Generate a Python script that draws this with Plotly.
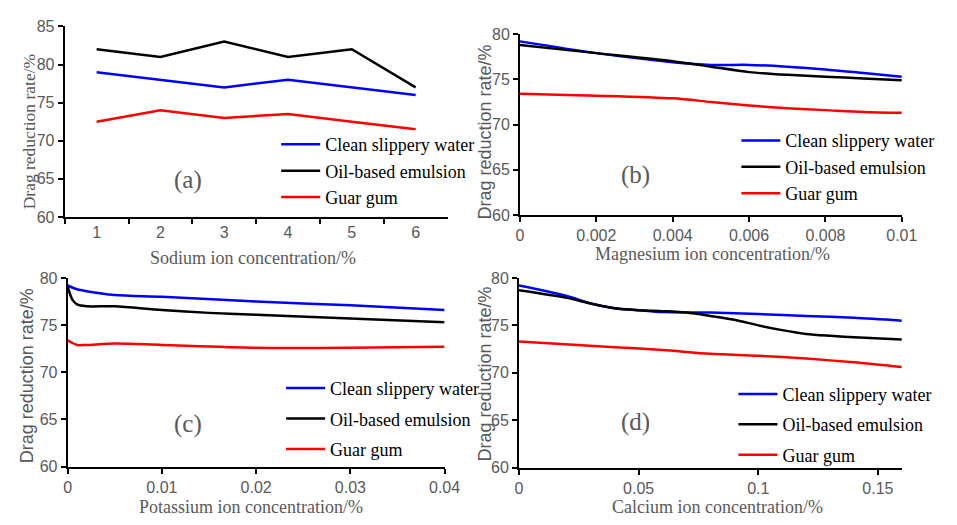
import plotly.graph_objects as go

W, H = 957, 525

# ---------------- data ----------------
series_names = ["Clean slippery water", "Oil-based emulsion", "Guar gum"]
series_colors = ["#0000FF", "#000000", "#FF0000"]

# (a) Sodium
na_x = ["1", "2", "3", "4", "5", "6"]
na_clean = [79, 78, 77, 78, 77, 76]
na_oil = [82, 81, 83, 81, 82, 77]
na_guar = [72.5, 74, 73, 73.5, 72.5, 71.5]

# (b) Magnesium
mg_x = [0, 0.002, 0.004, 0.005, 0.006, 0.007, 0.008, 0.009, 0.01]
mg_clean = [79.2, 77.9, 76.9, 76.6, 76.6, 76.4, 76.1, 75.7, 75.3]
mg_oil = [78.8, 77.9, 77.0, 76.4, 75.8, 75.5, 75.3, 75.1, 74.9]
mg_guar = [73.4, 73.2, 72.9, 72.5, 72.1, 71.8, 71.6, 71.4, 71.3]

# (c) Potassium
k_x_clean = [0, 0.001, 0.002, 0.005, 0.01, 0.02, 0.03, 0.04]
k_clean = [79.2, 78.8, 78.6, 78.2, 78.0, 77.5, 77.1, 76.6]
k_x_oil = [0, 0.0005, 0.001, 0.002, 0.005, 0.01, 0.015, 0.02, 0.03, 0.04]
k_oil = [79.1, 77.7, 77.2, 77.0, 77.0, 76.6, 76.3, 76.1, 75.7, 75.3]
k_x_guar = [0, 0.001, 0.002, 0.005, 0.01, 0.02, 0.03, 0.04]
k_guar = [73.4, 72.9, 72.9, 73.05, 72.9, 72.6, 72.6, 72.7]

# (d) Calcium
ca_x_clean = [0, 0.02, 0.03, 0.04, 0.05, 0.06, 0.08, 0.1, 0.12, 0.14, 0.16]
ca_clean = [79.2, 78.1, 77.3, 76.8, 76.6, 76.4, 76.35, 76.2, 76.0, 75.8, 75.5]
ca_x_oil = [0, 0.02, 0.03, 0.04, 0.05, 0.06, 0.07, 0.08, 0.09, 0.1, 0.11, 0.12, 0.13, 0.14, 0.16]
ca_oil = [78.7, 77.9, 77.3, 76.8, 76.6, 76.5, 76.35, 76.0, 75.6, 75.0, 74.5, 74.1, 73.9, 73.75, 73.5]
ca_x_guar = [0, 0.04, 0.06, 0.08, 0.1, 0.12, 0.14, 0.16]
ca_guar = [73.3, 72.7, 72.4, 72.0, 71.8, 71.5, 71.1, 70.6]

# tick labels
yticks_a = [60, 65, 70, 75, 80, 85]
yticks_bcd = [60, 65, 70, 75, 80]
mg_ticks = [0, 0.002, 0.004, 0.006, 0.008, 0.01]
mg_ticktext = ["0", "0.002", "0.004", "0.006", "0.008", "0.01"]
k_ticks = [0, 0.01, 0.02, 0.03, 0.04]
k_ticktext = ["0", "0.01", "0.02", "0.03", "0.04"]
ca_ticks = [0, 0.05, 0.1, 0.15]
ca_ticktext = ["0", "0.05", "0.1", "0.15"]

x_titles = ["Sodium ion concentration/%", "Magnesium ion concentration/%",
            "Potassium ion concentration/%", "Calcium ion concentration/%"]
y_title = "Drag reduction rate/%"
panel_labels = ["(a)", "(b)", "(c)", "(d)"]

SERIF = "Times New Roman, Liberation Serif, serif"
SANS = "Arial, Liberation Sans, sans-serif"
GRAY = "#595959"

fig = go.Figure()

panels = [
    ("x", "y", "legend", [(na_x, na_clean), (na_x, na_oil), (na_x, na_guar)], "linear"),
    ("x2", "y2", "legend2", [(mg_x, mg_clean), (mg_x, mg_oil), (mg_x, mg_guar)], "spline"),
    ("x3", "y3", "legend3", [(k_x_clean, k_clean), (k_x_oil, k_oil), (k_x_guar, k_guar)], "spline"),
    ("x4", "y4", "legend4", [(ca_x_clean, ca_clean), (ca_x_oil, ca_oil), (ca_x_guar, ca_guar)], "spline"),
]
for pi, (xa, ya, lg, data, shape) in enumerate(panels):
    for si, (xs, ys) in enumerate(data):
        fig.add_trace(go.Scatter(
            x=xs, y=ys, mode="lines", name=series_names[si],
            line=dict(color=series_colors[si], width=2.5, shape=shape, smoothing=0.8),
            xaxis=xa, yaxis=ya, legend=lg,
            legendgroup=f"{lg}_{si}",
        ))

def px_x(p):
    return p / W

def px_y(p):
    return 1 - p / H

common_axis = dict(showline=True, linecolor="black", linewidth=2, ticks="outside",
                   ticklen=5, tickwidth=1.5, tickcolor="black", showgrid=False,
                   zeroline=False, tickfont=dict(family=SANS, size=16, color=GRAY))

# domains (pixel based)
dom = {
    "a": ((62, 453), (19, 216)),
    "b": ((527, 917), (27, 214)),
    "c": ((65, 450), (279, 474)),
    "d": ((526, 917), (279, 475)),
}

def xd(k):
    return [px_x(dom[k][0][0]), px_x(dom[k][0][1])]

def yd(k):
    return [px_y(dom[k][1][1]), px_y(dom[k][1][0])]

fig.update_layout(
    width=W, height=H, margin=dict(l=0, r=0, t=0, b=0),
    paper_bgcolor="white", plot_bgcolor="white",
    xaxis=dict(domain=xd("a"), anchor="y", type="category", tickson="boundaries",
               range=[-0.5, 5.5], **common_axis),
    yaxis=dict(domain=yd("a"), anchor="x", range=[60, 85], tickvals=yticks_a, **common_axis),
    xaxis2=dict(domain=xd("b"), anchor="y2", range=[0, 0.01], tickvals=mg_ticks,
                ticktext=mg_ticktext, **common_axis),
    yaxis2=dict(domain=yd("b"), anchor="x2", range=[60, 80], tickvals=yticks_bcd, **common_axis),
    xaxis3=dict(domain=xd("c"), anchor="y3", range=[0, 0.04], tickvals=k_ticks,
                ticktext=k_ticktext, **common_axis),
    yaxis3=dict(domain=yd("c"), anchor="x3", range=[60, 80], tickvals=yticks_bcd, **common_axis),
    xaxis4=dict(domain=xd("d"), anchor="y4", range=[0, 0.16], tickvals=ca_ticks,
                ticktext=ca_ticktext, **common_axis),
    yaxis4=dict(domain=yd("d"), anchor="x4", range=[60, 80], tickvals=yticks_bcd, **common_axis),
    showlegend=True,
)

legend_common = dict(xanchor="left", yanchor="top", bgcolor="rgba(0,0,0,0)",
                     borderwidth=0, font=dict(family=SERIF, size=18, color="black"),
                     traceorder="grouped", itemwidth=39)
# (text start x, top y, group gap)
legend_pos = {
    "legend": (327, 122, 0),
    "legend2": (797, 118, 0),
    "legend3": (332, 374, 4),
    "legend4": (794, 380, 4),
}
for name, (tx, ty, gap) in legend_pos.items():
    fig.update_layout({name: dict(x=px_x(tx - 49), y=px_y(ty), tracegroupgap=gap, **legend_common)})

annotations = []
# panel labels
for lab, (cx, cy) in zip(panel_labels, [(188, 178), (645, 173), (188, 430), (645, 428)]):
    annotations.append(dict(text=lab, x=px_x(cx), y=px_y(cy), xref="paper", yref="paper",
                            showarrow=False, xanchor="center", yanchor="middle",
                            font=dict(family=SERIF, size=25, color=GRAY)))
# x titles
for t, (cx, cy) in zip(x_titles, [(254, 258), (724, 254), (252, 516), (729, 516)]):
    annotations.append(dict(text=t, x=px_x(cx), y=px_y(cy), xref="paper", yref="paper",
                            showarrow=False, xanchor="center", yanchor="middle",
                            font=dict(family=SERIF, size=18, color=GRAY)))
# y titles
for fam, (cx, cy) in zip([SERIF, SANS, SANS, SANS], [(25, 128), (491, 128), (23, 380), (491, 378)]):
    annotations.append(dict(text=y_title, x=px_x(cx), y=px_y(cy), xref="paper", yref="paper",
                            showarrow=False, xanchor="center", yanchor="middle", textangle=-90,
                            font=dict(family=fam, size=18 if fam == SANS else 17.5, color=GRAY)))
fig.update_layout(annotations=annotations)

fig.write_html("out.html")
